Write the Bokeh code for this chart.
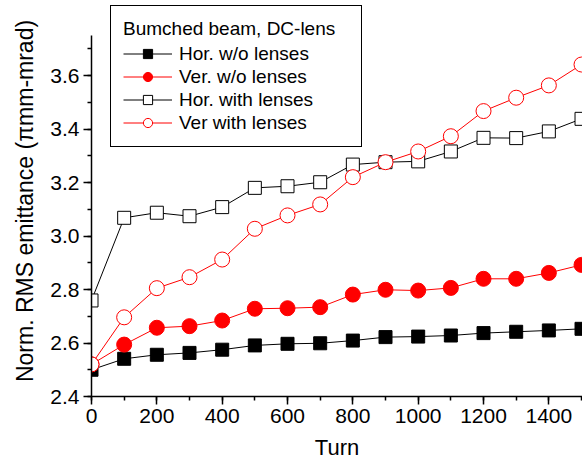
from bokeh.plotting import figure
from bokeh.models import Range1d, SingleIntervalTicker, PrintfTickFormatter, Legend, LegendItem
from bokeh.embed import file_html
from bokeh.resources import INLINE

turns = [0, 100, 200, 300, 400, 500, 600, 700, 800, 900, 1000, 1100, 1200, 1300, 1400, 1500]
hor_wo = [2.50, 2.541, 2.556, 2.563, 2.575, 2.591, 2.597, 2.599, 2.609, 2.622, 2.624, 2.628, 2.637, 2.642, 2.647, 2.653]
ver_wo = [2.52, 2.594, 2.657, 2.663, 2.684, 2.728, 2.730, 2.734, 2.781, 2.799, 2.796, 2.806, 2.840, 2.840, 2.862, 2.892]
hor_with = [2.759, 3.068, 3.087, 3.074, 3.108, 3.180, 3.186, 3.201, 3.267, 3.276, 3.279, 3.316, 3.367, 3.366, 3.391, 3.438]
ver_with = [2.52, 2.696, 2.805, 2.846, 2.912, 3.027, 3.077, 3.118, 3.220, 3.276, 3.316, 3.373, 3.467, 3.517, 3.563, 3.641]

legend_title = "Bumched beam, DC-lens"
labels = ["Hor. w/o lenses", "Ver. w/o lenses", "Hor. with lenses", "Ver with lenses"]

FONT = "Liberation Sans"

p = figure(width=582, height=464, output_backend="svg", toolbar_location=None,
           x_range=Range1d(0, 1503), y_range=Range1d(2.4, 3.8617),
           min_border_left=91, min_border_top=5, min_border_bottom=68, min_border_right=0)
p.outline_line_color = None
p.grid.visible = False
p.background_fill_color = "white"
p.border_fill_color = "white"

l1 = p.line(turns, hor_wo, line_color="black", line_width=1)
m1 = p.scatter(turns, hor_wo, marker="square", size=13, fill_color="black", line_color="black")
l2 = p.line(turns, ver_wo, line_color="red", line_width=1)
m2 = p.scatter(turns, ver_wo, marker="circle", size=15, fill_color="red", line_color="red")
l3 = p.line(turns, hor_with, line_color="black", line_width=1)
m3 = p.scatter(turns, hor_with, marker="square", size=13, fill_color="white", line_color="black", line_width=1)
l4 = p.line(turns, ver_with, line_color="red", line_width=1)
m4 = p.scatter(turns, ver_with, marker="circle", size=15, fill_color="white", line_color="red", line_width=1)

p.xaxis.ticker = SingleIntervalTicker(interval=200, num_minor_ticks=2)
p.yaxis.ticker = SingleIntervalTicker(interval=0.2, num_minor_ticks=2)
p.yaxis.formatter = PrintfTickFormatter(format="%.1f")
p.yaxis.bounds = (2.4, 3.75)
p.xaxis.axis_label = "Turn"
p.yaxis.axis_label = "Norm. RMS emittance (\u03c0mm-mrad)"
for ax in (p.xaxis, p.yaxis):
    ax.axis_line_width = 1.5
    ax.axis_line_color = "black"
    ax.major_tick_line_color = "black"
    ax.minor_tick_line_color = "black"
    ax.major_tick_line_width = 1.5
    ax.minor_tick_line_width = 1.5
    ax.major_tick_out = 8
    ax.major_tick_in = 0
    ax.minor_tick_out = 4
    ax.minor_tick_in = 0
    ax.major_label_text_font = FONT
    ax.major_label_text_font_size = "21px"
    ax.major_label_text_color = "black"
    ax.major_label_standoff = 4
    ax.axis_label_text_font = FONT
    ax.axis_label_text_font_size = "22px"
    ax.axis_label_text_font_style = "normal"
    ax.axis_label_text_color = "black"
p.yaxis.axis_label_text_font_size = "23px"
p.xaxis.axis_label_standoff = 9
p.yaxis.axis_label_standoff = 9

legend = Legend(items=[LegendItem(label=labels[0], renderers=[l1, m1]),
                       LegendItem(label=labels[1], renderers=[l2, m2]),
                       LegendItem(label=labels[2], renderers=[l3, m3]),
                       LegendItem(label=labels[3], renderers=[l4, m4])],
                location=(19, 249), title=legend_title)
legend.title_text_font = FONT
legend.title_text_font_size = "19px"
legend.title_text_font_style = "normal"
legend.title_text_color = "black"
legend.title_standoff = 2
legend.label_text_font = FONT
legend.label_text_font_size = "19px"
legend.label_text_color = "black"
legend.glyph_width = 49
legend.glyph_height = 23
legend.label_height = 23
legend.label_standoff = 7
legend.label_width = 170
legend.spacing = 0
legend.padding = 12
legend.margin = 0
legend.border_line_color = "black"
legend.border_line_width = 1
legend.border_line_alpha = 1
legend.background_fill_alpha = 1
p.add_layout(legend, "center")

open("out.html", "w").write(file_html(p, INLINE))
